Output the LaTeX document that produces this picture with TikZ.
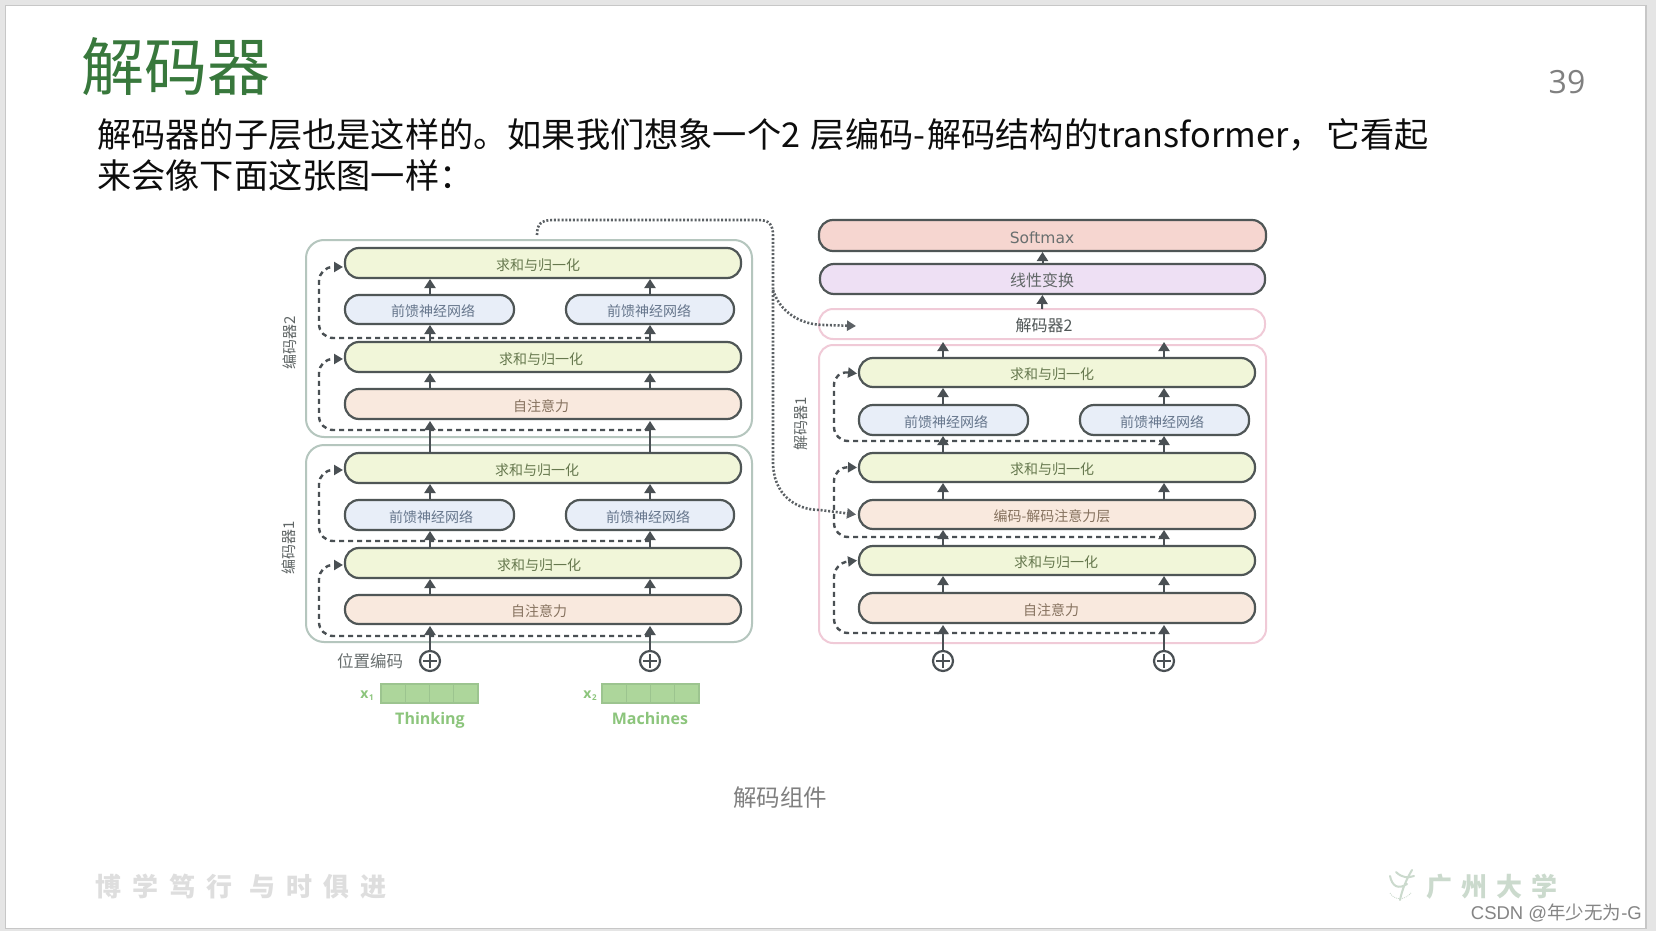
\documentclass[tikz,border=0pt]{standalone}
\usepackage{fontspec}
\setmainfont{Noto Sans CJK SC}
\newfontfamily\latinsans{Open Sans}
\newfontfamily\softfont{DejaVu Sans}
\newfontfamily\csdnfont{Liberation Sans}
\newfontfamily\cjkfont{Noto Sans CJK SC}
\usetikzlibrary{arrows.meta,calc}
\definecolor{edgegray}{HTML}{4F5656}
\definecolor{arrgray}{HTML}{4A5054}
\definecolor{normfill}{HTML}{F1F6D9}
\definecolor{fffill}{HTML}{E8EEF8}
\definecolor{attnfill}{HTML}{F9E9DE}
\definecolor{softfill}{HTML}{F6D6D0}
\definecolor{linfill}{HTML}{EEE0F4}
\definecolor{normtext}{HTML}{66784E}
\definecolor{fftext}{HTML}{66768C}
\definecolor{attntext}{HTML}{86725F}
\definecolor{titlegreen}{HTML}{38783C}
\definecolor{encline}{HTML}{B5C6BE}
\definecolor{decline}{HTML}{F0CAD7}
\definecolor{tokenfill}{HTML}{ADD69B}
\definecolor{tokenline}{HTML}{9CC48F}
\definecolor{wordgreen}{HTML}{8CC57C}
\definecolor{univgreen}{HTML}{CBDACD}
\newcommand{\fsz}[1]{\fontsize{#1}{#1}\selectfont}
\tikzset{
  x=1pt,y=-1pt,
  barbase/.style={draw=edgegray,line width=2.2pt,inner sep=0pt,outer sep=0pt,rounded corners=14pt,align=center},
  normbar/.style={barbase,fill=normfill,text=normtext,font=\fsz{14}},
  ffbar/.style={barbase,fill=fffill,text=fftext,font=\fsz{14}},
  attnbar/.style={barbase,fill=attnfill,text=attntext,font=\fsz{14}},
  softbar/.style={barbase,fill=softfill,text=edgegray!85,font=\softfont\fsz{15.5}},
  linbar/.style={barbase,fill=linfill,text=edgegray!90,font=\fsz{16}},
  decbar/.style={barbase,draw=decline,line width=2pt,fill=white,text=edgegray,font=\fsz{16}},
  encframe/.style={draw=encline,line width=2pt,rounded corners=18pt,inner sep=0pt},
  decframe/.style={draw=decline,line width=2pt,rounded corners=14pt,inner sep=0pt},
  flow/.style={draw=arrgray,line width=2pt,-{Triangle[length=9pt,width=11pt]},shorten >=1pt},
  skipline/.style={draw=arrgray,line width=2.4pt,dash pattern=on 5pt off 4pt,rounded corners=14pt,-{Triangle[length=9pt,width=10pt]}},
  dotline/.style={draw=arrgray!90,line width=2.6pt,dash pattern=on 2pt off 1.8pt,-{Triangle[length=9pt,width=10pt]}},
  plusnode/.style={circle,draw=arrgray,line width=2.2pt,minimum size=20pt,inner sep=0pt,
    path picture={\draw[arrgray,line width=1.8pt,shorten >=3pt,shorten <=3pt] (path picture bounding box.west) -- (path picture bounding box.east);
      \draw[arrgray,line width=1.8pt,shorten >=3pt,shorten <=3pt] (path picture bounding box.north) -- (path picture bounding box.south);}},
  sidelabel/.style={rotate=90,text=edgegray!90,font=\fsz{15}},
  wordlabel/.style={text=wordgreen,anchor=base,font=\latinsans\bfseries\fsz{16}},
  xlabel/.style={text=wordgreen,font=\latinsans\bfseries\fsz{14}},
  tokencell/.style={draw=tokenline,line width=1.2pt,fill=tokenfill},
}
% name, style, x1, y1, x2, y2, text centre x, text
\newcommand{\barnode}[8]{%
  \pgfmathsetmacro{\bw}{#5-#3}\pgfmathsetmacro{\bh}{#6-#4}%
  \pgfmathsetmacro{\bx}{(#3+#5)/2}\pgfmathsetmacro{\by}{(#4+#6)/2}%
  \pgfmathsetmacro{\bk}{2*(#7-\bx)}%
  \node[#2,minimum width=\bw pt,minimum height=\bh pt] (#1) at (\bx,\by) {\kern\bk pt\raisebox{0pt}[\dimexpr\height+3.5pt][\depth]{#8}};}
\begin{document}
\begin{tikzpicture}
\useasboundingbox (0,0) rectangle (1656,931);
% slide
\fill[black!10] (0,0) rectangle (1656,931);
\draw[fill=white,draw=black!22,line width=1.2pt] (5.5,5.5) rectangle (1646,928.5);
% header
\node[anchor=west,inner sep=0,text=titlegreen,font=\fsz{63}] (title) at (81,67) {解码器};
\node[anchor=center,inner sep=0,text=black!50,font=\latinsans\fsz{32}] (pageno) at (1567,82) {39};
\node[anchor=west,inner sep=0,text=black!95,font=\fsz{34.2}] (line1) at (97,134.5) {解码器的子层也是这样的。如果我们想象一个2 \kern3pt层编码-\kern2pt解码结构的transformer，\kern4pt 它看起};
\node[anchor=west,inner sep=0,text=black!95,font=\fsz{34.2}] (line2) at (97,175) {来会像下面这张图一样：};
% frames
\node[encframe,minimum width=446pt,minimum height=197pt] (enc2) at (529,338.5) {};
\node[encframe,minimum width=446pt,minimum height=197pt] (enc1) at (529,543.5) {};
\node[decframe,minimum width=447pt,minimum height=298pt] (dec1) at (1042.5,494) {};
% plus nodes
\node[plusnode] (p1) at (430,661) {};
\node[plusnode] (p2) at (650,661) {};
\node[plusnode] (p3) at (943,661) {};
\node[plusnode] (p4) at (1164,661) {};
% encoder 2
\barnode{e2n2}{normbar}{345}{248}{741}{278}{538}{求和与归一化}
\barnode{e2fa}{ffbar}{345}{295}{514}{324}{433}{前馈神经网络}
\barnode{e2fb}{ffbar}{566}{295}{734}{324}{649}{前馈神经网络}
\barnode{e2n1}{normbar}{345}{342}{741}{372}{541}{求和与归一化}
\barnode{e2s}{attnbar}{345}{389}{741}{419}{541}{自注意力}
% encoder 1
\barnode{e1n2}{normbar}{345}{453}{741}{483}{537}{求和与归一化}
\barnode{e1fa}{ffbar}{345}{500}{514}{530}{431}{前馈神经网络}
\barnode{e1fb}{ffbar}{566}{500}{734}{530}{648}{前馈神经网络}
\barnode{e1n1}{normbar}{345}{548}{741}{578}{539}{求和与归一化}
\barnode{e1s}{attnbar}{345}{595}{741}{624}{539}{自注意力}
% decoder top
\barnode{soft}{softbar}{819}{220}{1266}{251}{1042}{Softmax}
\barnode{lin}{linbar}{820}{264}{1265}{294}{1042}{线性变换}
\barnode{dec2}{decbar}{819}{309}{1265}{339}{1044}{解码器2}
% decoder 1
\barnode{d1n3}{normbar}{859}{358}{1255}{387}{1052}{求和与归一化}
\barnode{d1fa}{ffbar}{859}{405}{1028}{435}{946}{前馈神经网络}
\barnode{d1fb}{ffbar}{1080}{405}{1249}{435}{1162}{前馈神经网络}
\barnode{d1n2}{normbar}{859}{453}{1255}{482}{1052}{求和与归一化}
\barnode{d1ed}{attnbar}{859}{500}{1255}{529}{1052}{编码-解码注意力层}
\barnode{d1n1}{normbar}{859}{546}{1255}{575}{1056}{求和与归一化}
\barnode{d1s}{attnbar}{859}{593}{1255}{623}{1051}{自注意力}
% flows: encoder
\foreach \p/\f in {p1/a,p2/b}{
  \draw[flow] (\p |- e2f\f.north) -- (\p |- e2n2.south);
  \draw[flow] (\p |- e2n1.north) -- (\p |- e2f\f.south);
  \draw[flow] (\p |- e2s.north) -- (\p |- e2n1.south);
  \draw[flow,shorten >=2pt] (\p |- e1n2.north) -- (\p |- e2s.south);
  \draw[flow] (\p |- e1f\f.north) -- (\p |- e1n2.south);
  \draw[flow] (\p |- e1n1.north) -- (\p |- e1f\f.south);
  \draw[flow] (\p |- e1s.north) -- (\p |- e1n1.south);
  \draw[flow,shorten >=2pt] (\p.north) -- (\p |- e1s.south);
}
% flows: decoder
\foreach \p/\f in {p3/a,p4/b}{
  \draw[flow,shorten >=3pt] (\p |- d1n3.north) -- (\p |- dec2.south);
  \draw[flow] (\p |- d1f\f.north) -- (\p |- d1n3.south);
  \draw[flow] (\p |- d1n2.north) -- (\p |- d1f\f.south);
  \draw[flow] (\p |- d1ed.north) -- (\p |- d1n2.south);
  \draw[flow] (\p |- d1n1.north) -- (\p |- d1ed.south);
  \draw[flow] (\p |- d1s.north) -- (\p |- d1n1.south);
  \draw[flow,shorten >=2pt] (\p.north) -- (\p |- d1s.south);
}
\draw[flow] (lin.north) -- (soft.south);
\draw[flow] (dec2.north) -- (lin.south);
% skip connections
\coordinate (sa) at (650,338);
\coordinate (sb) at (650,430);
\coordinate (sc) at (650,541);
\coordinate (sd) at (650,636);
\coordinate (se) at (1164,441);
\coordinate (sf) at (1164,537);
\coordinate (sg) at (1164,633);
\draw[skipline] (sa) -- ++(-331,0) -- ++(0,-71) -- ([xshift=-2pt,yshift=-4pt]e2n2.west);
\draw[skipline] (sb) -- ++(-331,0) -- ++(0,-71) -- ([xshift=-2pt,yshift=-2pt]e2n1.west);
\draw[skipline] (sc) -- ++(-331,0) -- ++(0,-71) -- ([xshift=-2pt,yshift=-2pt]e1n2.west);
\draw[skipline] (sd) -- ++(-331,0) -- ++(0,-71) -- ([xshift=-2pt,yshift=-2pt]e1n1.west);
\draw[skipline] (se) -- ++(-330,0) -- ++(0,-70) -- ([xshift=-2pt,yshift=-1pt]d1n3.west);
\draw[skipline] (sf) -- ++(-330,0) -- ++(0,-70) -- ([xshift=-2pt,yshift=0pt]d1n2.west);
\draw[skipline] (sg) -- ++(-330,0) -- ++(0,-70) -- ([xshift=-2pt,yshift=0pt]d1n1.west);
% encoder output to decoders (dotted)
\coordinate (outa) at (537,235);
\coordinate (bend) at (773,290);
\draw[dotline] (outa) .. controls (537,224) and (541,220) .. (553,220) -- (758,220)
  .. controls (769,220) and (773,224) .. (773,236) -- (bend) -- (773,462)
  .. controls (773,494) and (795,510) .. (820,510) -- ([xshift=-3pt]d1ed.west);
\draw[dotline] (bend) .. controls (780,312) and (800,325) .. (825,325) -- ([xshift=37pt,yshift=-2pt]dec2.west);
% side labels
\node[sidelabel] (lab2) at (290,343) {编码器2};
\node[sidelabel] (lab1) at (289,548) {编码器1};
\node[sidelabel] (lab3) at (801,424) {解码器1};
\node[text=edgegray!85,font=\fsz{16.5}] (pos) at (370,661) {位置编码};
% tokens
\foreach \i in {0,1,2,3}{
  \pgfmathsetmacro{\xa}{381+24.25*\i}\pgfmathsetmacro{\xb}{\xa+24.25}
  \pgfmathsetmacro{\xc}{602+24.25*\i}\pgfmathsetmacro{\xd}{\xc+24.25}
  \draw[tokencell] (\xa,684) rectangle (\xb,703);
  \draw[tokencell] (\xc,684) rectangle (\xd,703);
}
\node[xlabel] (x1) at (367,696) {x\kern0.5pt\raisebox{-2pt}{\fsz{8}1}};
\node[xlabel] (x2) at (590,696) {x\kern0.5pt\raisebox{-2pt}{\fsz{8}2}};
\node[wordlabel] (w1) at (430,724) {Thinking};
\node[wordlabel] (w2) at (650,724) {Machines};
% caption
\node[text=black!50,font=\fsz{23.5}] (cap) at (780,798) {解码组件};
% footer
\node[anchor=west,inner sep=0,text=black!13,font=\bfseries\fsz{26}] (motto) at (95,887)
  {博\kern11pt 学\kern11pt 笃\kern11pt 行\kern17pt 与\kern11pt 时\kern11pt 俱\kern11pt 进};
\node[anchor=west,inner sep=0,text=univgreen,font=\bfseries\fsz{26}] (univ) at (1426,887)
  {广\kern9pt 州\kern9pt 大\kern9pt 学};
% logo
\draw[univgreen,line width=2pt,line cap=round]
  (1390,876) .. controls (1392,886) and (1398,890) .. (1407,884)
  (1412,870) .. controls (1406,880) and (1402,890) .. (1400,900)
  (1396,872) .. controls (1402,878) and (1408,878) .. (1414,876);
\draw[univgreen,line width=0.8pt,dash pattern=on 1pt off 1pt]
  (1390,893) .. controls (1394,900) and (1404,901) .. (1411,893);
\node[anchor=east,inner sep=0,text=black!48,font=\csdnfont\fsz{18.5}] (csdn) at (1642,913) {CSDN @{\cjkfont 年少无为}-G};
\end{tikzpicture}
\end{document}
